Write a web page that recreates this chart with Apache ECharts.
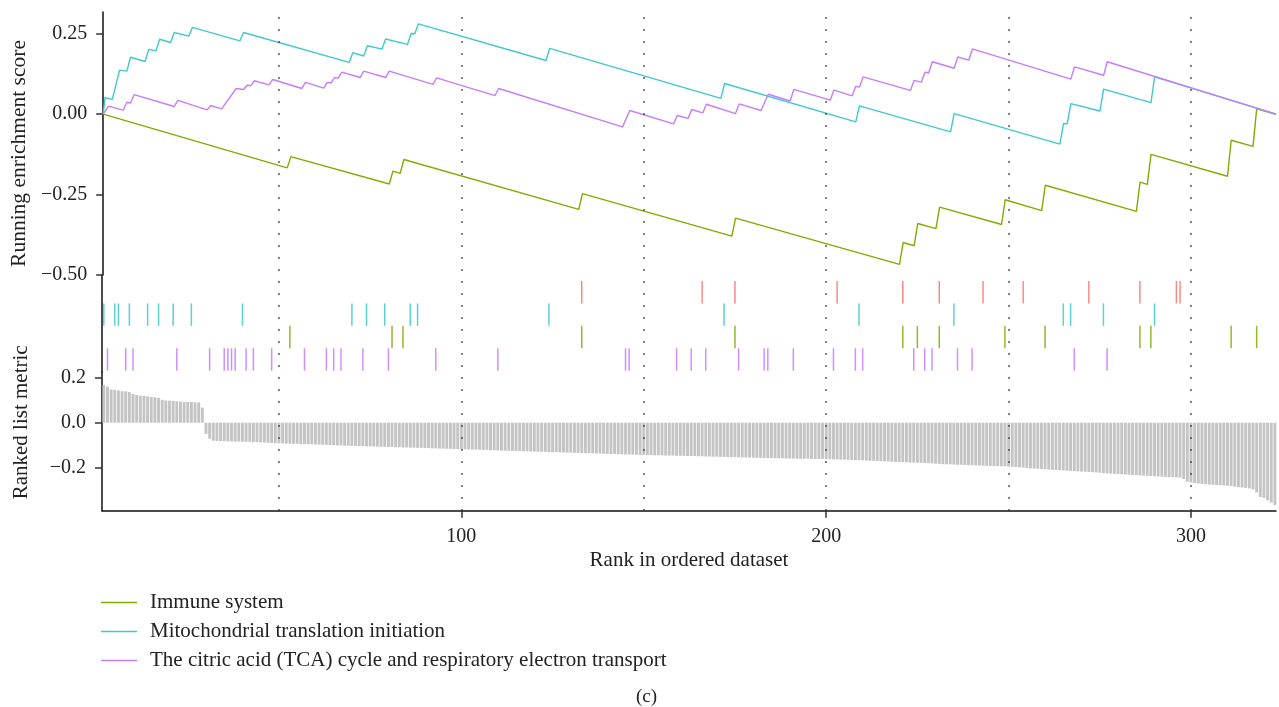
<!DOCTYPE html>
<html>
<head>
<meta charset="utf-8">
<script src="https://cdn.jsdelivr.net/npm/echarts@6/dist/echarts.min.js"></script>
<style>
html,body{margin:0;padding:0;background:#fff;}
#chart{width:1279px;height:707px;}
</style>
</head>
<body>
<div id="chart"></div>
<script>
// Gene set names shown in the legend
const setNames = [
  'Immune system',
  'Mitochondrial translation initiation',
  'The citric acid (TCA) cycle and respiratory electron transport'
];

// Running enrichment score vertices: [rank, score]
const esImmune = [[1.5,0],[52,-0.167],[53,-0.132],[80,-0.217],[81,-0.177],[83,-0.184],[84,-0.141],
  [132,-0.296],[133,-0.247],[174,-0.379],[175,-0.323],[220,-0.467],[221,-0.399],[224,-0.409],[225,-0.340],
  [230,-0.356],[231,-0.289],[248,-0.343],[249,-0.266],[259,-0.300],[260,-0.221],[285,-0.302],[286,-0.211],
  [288,-0.218],[289,-0.125],[310,-0.193],[311,-0.081],[317,-0.100],[318,0.0166],[323.3,0]];
const esMito = [[1.5,0],[2,0.051],[4,0.046],[6,0.137],[8,0.134],[9,0.177],[13,0.164],[14,0.2015],
  [16,0.197],[17,0.233],[20,0.223],[21,0.254],[25,0.243],[26,0.270],[39,0.228],[40,0.254],[69,0.161],
  [70,0.191],[73,0.181],[74,0.213],[78,0.2025],[79,0.234],[85,0.217],[86,0.251],[87,0.250],[88,0.281],
  [123,0.167],[124,0.2045],[171,0.049],[172,0.0955],[208,-0.024],[209,0.026],[234,-0.055],[235,0.002],
  [264,-0.093],[265,-0.029],[266,-0.030],[267,0.033],[275,0.010],[276,0.078],[289,0.036],[290,0.116],[323.3,0]];
const esTca = [[1.5,0],[3,0.025],[7,0.0125],[8,0.037],[9,0.035],[10,0.061],[21,0.024],[22,0.043],
  [30,0.0135],[31,0.027],[34,0.0166],[38,0.080],[40,0.077],[41,0.090],[42,0.089],[43,0.104],[47,0.091],
  [48,0.108],[56,0.080],[57,0.099],[62,0.081],[63,0.099],[64,0.097],[65,0.114],[66,0.112],[67,0.131],
  [72,0.114],[73,0.134],[79,0.114],[80,0.134],[92,0.0925],[93,0.113],[109,0.058],[110,0.080],
  [144,-0.0395],[146,0.0115],[158,-0.030],[159,-0.004],[162,-0.013],[163,0.0146],[166,0.004],[167,0.031],
  [175,0.002],[176,0.032],[182,0.0115],[184,0.062],[190,0.041],[191,0.077],[201,0.0436],[202,0.075],
  [207,0.057],[208,0.087],[209,0.084],[210,0.116],[223,0.074],[224,0.105],[226,0.0997],[227,0.131],
  [228,0.128],[229,0.163],[235,0.143],[236,0.178],[239,0.168],[240,0.203],[267,0.109],[268,0.147],
  [276,0.121],[277,0.163],[323.3,0]];

// Hit positions (ranks) per row of the rug, top to bottom
const hitsOther  = [133,166,175,203,221,231,243,254,272,286,296,297];
const hitsMito   = [2,5,6,9,14,17,21,26,40,70,74,79,86,88,124,172,209,235,265,267,276,290];
const hitsImmune = [53,81,84,133,175,221,225,231,249,260,286,289,311,318];
const hitsTca    = [3,8,10,22,31,35,36,37,38,41,43,48,57,63,65,67,73,80,93,110,145,146,159,163,167,
  176,183,184,191,202,208,210,224,227,229,236,240,268,277];

// Ranked list metric, one value per rank starting at metricStart
const metricStart = 2;
const rankedMetric = [
  0.168,0.160,0.148,0.146,0.143,0.140,0.139,0.136,0.128,0.123,0.120,0.119,0.117,0.114,0.113,0.110,
  0.102,0.099,0.098,0.097,0.095,0.094,0.093,0.092,0.092,0.090,0.090,0.067,
  -0.050,-0.071,
  -0.080,-0.081,-0.082,-0.082,-0.083,-0.083,-0.084,-0.084,-0.084,
  -0.085,-0.085,-0.086,-0.086,-0.087,-0.088,-0.089,-0.090,-0.091,-0.092,
  -0.092,-0.093,-0.093,-0.094,-0.094,-0.095,-0.095,-0.096,-0.096,-0.097,
  -0.097,-0.098,-0.098,-0.099,-0.100,-0.101,-0.101,-0.102,-0.102,-0.103,
  -0.103,-0.104,-0.104,-0.105,-0.105,-0.106,-0.106,-0.107,-0.107,-0.108,
  -0.108,-0.109,-0.109,-0.110,-0.110,-0.111,-0.111,-0.112,-0.112,-0.113,
  -0.113,-0.114,-0.114,-0.115,-0.115,-0.116,-0.116,-0.117,-0.117,-0.118,
  -0.118,-0.119,-0.119,-0.120,-0.120,-0.121,-0.121,-0.122,-0.122,-0.123,
  -0.124,-0.124,-0.125,-0.125,-0.126,-0.126,-0.127,-0.127,-0.128,-0.128,
  -0.129,-0.129,-0.130,-0.130,-0.131,-0.131,-0.132,-0.132,-0.133,-0.133,
  -0.134,-0.134,-0.135,-0.135,-0.136,-0.136,-0.137,-0.137,-0.138,-0.138,
  -0.139,-0.139,-0.140,-0.140,-0.141,-0.141,-0.142,-0.142,-0.143,-0.143,
  -0.144,-0.144,-0.145,-0.145,-0.145,-0.146,-0.146,-0.146,-0.147,-0.147,
  -0.147,-0.148,-0.148,-0.148,-0.149,-0.149,-0.150,-0.150,-0.151,-0.151,
  -0.152,-0.152,-0.153,-0.153,-0.153,-0.154,-0.154,-0.155,-0.155,-0.155,
  -0.156,-0.156,-0.157,-0.157,-0.157,-0.158,-0.158,-0.158,-0.159,-0.159,
  -0.159,-0.160,-0.160,-0.160,-0.160,-0.161,-0.161,-0.161,-0.161,-0.162,
  -0.162,-0.163,-0.163,-0.164,-0.164,-0.165,-0.165,-0.166,-0.167,-0.167,
  -0.168,-0.169,-0.169,-0.170,-0.171,-0.172,-0.172,-0.173,-0.174,-0.175,
  -0.175,-0.176,-0.177,-0.177,-0.178,-0.178,-0.179,-0.180,-0.181,-0.182,
  -0.183,-0.184,-0.185,-0.185,-0.186,-0.187,-0.187,-0.188,-0.189,-0.189,
  -0.190,-0.190,-0.191,-0.192,-0.192,-0.193,-0.193,-0.194,-0.194,-0.195,
  -0.196,-0.197,-0.198,-0.199,-0.201,-0.203,-0.204,-0.205,-0.206,-0.207,
  -0.208,-0.209,-0.210,-0.211,-0.212,-0.213,-0.214,-0.215,-0.216,-0.217,
  -0.218,-0.219,-0.220,-0.221,-0.222,-0.224,-0.225,-0.226,-0.227,-0.228,
  -0.229,-0.230,-0.231,-0.232,-0.233,-0.234,-0.235,-0.236,-0.237,-0.238,
  -0.239,-0.240,-0.241,-0.242,-0.242,-0.243,-0.243,-0.250,-0.262,-0.265,
  -0.268,-0.270,-0.272,-0.274,-0.275,-0.276,-0.277,-0.278,-0.279,-0.280,
  -0.282,-0.284,-0.286,-0.288,-0.290,-0.292,-0.296,-0.310,-0.330,-0.334,
  -0.345,-0.355,-0.366
];

// Axis ticks and reference lines
const rankTicks   = [100, 200, 300];
const rankGuides  = [50, 100, 150, 200, 250, 300];
const esTicks     = [-0.5, -0.25, 0, 0.25];
const metricTicks = [-0.2, 0, 0.2];

const colors = { immune: '#7CAE00', mito: '#3FC9CD', tca: '#C77CFF', other: '#F8766D' };
const FONT = "'Liberation Serif', 'Times New Roman', serif";
const TEXT = '#222222';

const signed = digits => v => (v < 0 ? '\u2212' : '') + Math.abs(v).toFixed(digits);

const X_MIN = 1.5, X_MAX = 323.3;
const LEFT = 102, RIGHT = 3;

const chart = echarts.init(document.getElementById('chart'), null, { renderer: 'canvas' });

function rugItem(params, api) {
  const r = api.value(0), row = api.value(1);
  const a = api.coord([r, row]);
  const b = api.coord([r, row + 1]);
  return {
    type: 'line',
    shape: { x1: a[0], y1: a[1], x2: b[0], y2: b[1] },
    style: { stroke: api.visual('color'), lineWidth: 1.5, opacity: 0.85 }
  };
}

const rugRows = [
  { hits: hitsOther, color: colors.other },
  { hits: hitsMito, color: colors.mito },
  { hits: hitsImmune, color: colors.immune },
  { hits: hitsTca, color: colors.tca }
];

const hiddenX = idx => ({ type: 'value', gridIndex: idx, min: X_MIN, max: X_MAX, show: false });
const axisLineStyle = { lineStyle: { color: '#111', width: 1.5 } };

const option = {
  backgroundColor: '#fff',
  animation: false,
  textStyle: { fontFamily: FONT },
  title: {
    text: '(c)', left: 631, top: 683,
    textStyle: { fontFamily: FONT, fontSize: 19, fontWeight: 'normal', color: TEXT }
  },
  legend: {
    orient: 'vertical', left: 101, top: 592, padding: 0,
    icon: 'rect', itemWidth: 36, itemHeight: 1.3, itemGap: 8,
    data: setNames,
    textStyle: { fontFamily: FONT, fontSize: 21, color: TEXT, lineHeight: 21, padding: [0, 0, 0, 8] }
  },
  grid: [
    { left: LEFT, right: RIGHT, top: 12, height: 263 },        // running score
    { left: LEFT, right: RIGHT, top: 275, height: 97 },        // hit rug
    { left: LEFT, right: RIGHT, top: 372, height: 138.7 },     // ranked metric
    { left: LEFT, right: RIGHT, top: 12, height: 498.7 }       // guide lines
  ],
  xAxis: [
    hiddenX(0),
    hiddenX(1),
    {
      type: 'value', gridIndex: 2, min: X_MIN, max: X_MAX,
      axisLine: { show: true, onZero: false, ...axisLineStyle },
      axisTick: { show: true, length: 7, customValues: rankTicks, lineStyle: { color: '#333', width: 1.5 } },
      axisLabel: { customValues: rankTicks, fontFamily: FONT, fontSize: 20, color: TEXT, margin: 16 },
      splitLine: { show: false },
      name: 'Rank in ordered dataset', nameLocation: 'middle', nameGap: 39,
      nameTextStyle: { fontFamily: FONT, fontSize: 21, color: TEXT }
    },
    hiddenX(3)
  ],
  yAxis: [
    {
      type: 'value', gridIndex: 0, min: -0.5, max: 0.3178,
      axisLine: { show: true, ...axisLineStyle },
      axisTick: { show: true, length: 7, customValues: esTicks, lineStyle: { color: '#333', width: 1.5 } },
      axisLabel: { customValues: esTicks, formatter: signed(2), fontFamily: FONT, fontSize: 20, color: TEXT, margin: 16 },
      splitLine: { show: false },
      name: 'Running enrichment score', nameLocation: 'middle', nameGap: 70,
      nameTextStyle: { fontFamily: FONT, fontSize: 21.5, color: TEXT, padding: [0, 20, 0, 0] }
    },
    {
      type: 'value', gridIndex: 1, min: -0.268, max: 4.06, inverse: true,
      axisLine: { show: true, ...axisLineStyle },
      axisTick: { show: false }, axisLabel: { show: false }, splitLine: { show: false }
    },
    {
      type: 'value', gridIndex: 2, min: -0.391, max: 0.2253,
      axisLine: { show: true, onZero: false, ...axisLineStyle },
      axisTick: { show: true, length: 7, customValues: metricTicks, lineStyle: { color: '#333', width: 1.5 } },
      axisLabel: { customValues: metricTicks, formatter: signed(1), fontFamily: FONT, fontSize: 20, color: TEXT, margin: 16 },
      splitLine: { show: false },
      name: 'Ranked list metric', nameLocation: 'middle', nameGap: 70,
      nameTextStyle: { fontFamily: FONT, fontSize: 21, color: TEXT, padding: [0, 0, 0, 38] }
    },
    { type: 'value', gridIndex: 3, min: 0, max: 1, show: false }
  ],
  series: [
    {
      type: 'line', xAxisIndex: 3, yAxisIndex: 3, data: [], silent: true, z: 0,
      markLine: {
        silent: true, symbol: 'none', label: { show: false },
        lineStyle: { color: '#222', width: 1.5, type: [1.5, 10.5] },
        data: rankGuides.map(r => ({ xAxis: r }))
      }
    },
    {
      type: 'bar', xAxisIndex: 2, yAxisIndex: 2, barWidth: 2.9, z: 3,
      itemStyle: { color: '#c4c4c4' },
      data: rankedMetric.map((v, i) => [metricStart + i, v])
    },
    ...rugRows.map((row, k) => ({
      type: 'custom', xAxisIndex: 1, yAxisIndex: 1, z: 3,
      itemStyle: { color: row.color },
      renderItem: rugItem,
      encode: { x: 0, y: 1 },
      data: row.hits.map(h => [h, k])
    })),
    { name: setNames[0], type: 'line', xAxisIndex: 0, yAxisIndex: 0, data: esImmune, showSymbol: false, z: 4,
      color: colors.immune, lineStyle: { width: 1.4, color: colors.immune } },
    { name: setNames[1], type: 'line', xAxisIndex: 0, yAxisIndex: 0, data: esMito, showSymbol: false, z: 4,
      color: colors.mito, lineStyle: { width: 1.4, color: colors.mito } },
    { name: setNames[2], type: 'line', xAxisIndex: 0, yAxisIndex: 0, data: esTca, showSymbol: false, z: 4,
      color: colors.tca, lineStyle: { width: 1.4, color: colors.tca } }
  ]
};

chart.setOption(option);
</script>
</body>
</html>
